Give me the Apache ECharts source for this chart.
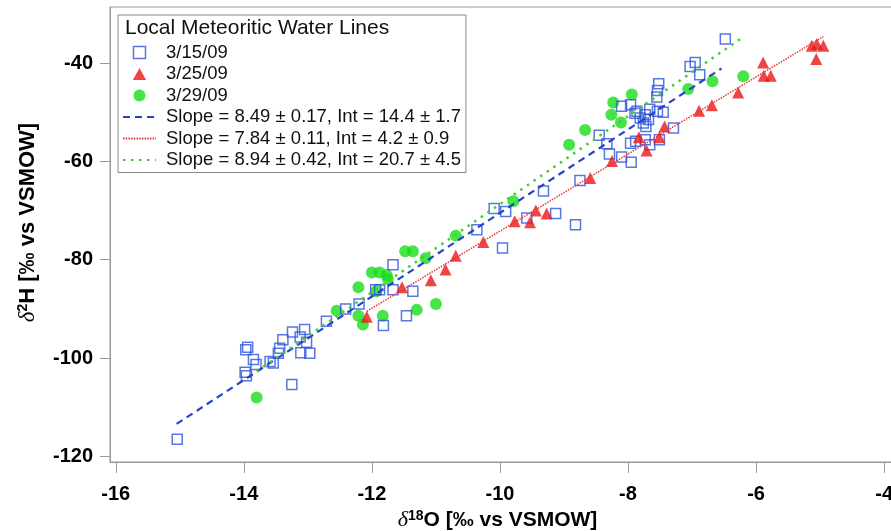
<!DOCTYPE html>
<html>
<head>
<meta charset="utf-8">
<script src="https://cdn.jsdelivr.net/npm/echarts@6/dist/echarts.min.js"></script>
<style>
  html, body { margin: 0; padding: 0; background: #fff; }
  #chart { width: 891px; height: 531px; }
</style>
</head>
<body>
<div id="chart"></div>
<script>
// 3/15/09 samples [d18O, d2H]
var mar15 = [
  [-15.04, -116.5], [-13.97, -98.3], [-13.94, -97.8], [-13.85, -100.3], [-13.81, -101.3],
  [-13.98, -102.9], [-13.96, -103.6], [-13.59, -100.7], [-13.54, -101.0], [-13.46, -99.0],
  [-13.44, -98.0], [-13.39, -96.3], [-13.24, -94.7], [-13.12, -95.7], [-13.05, -94.2],
  [-13.02, -96.8], [-13.11, -98.9], [-12.97, -99.0], [-13.25, -105.4], [-12.71, -92.5],
  [-12.41, -90.0], [-12.20, -89.0], [-11.94, -86.1], [-11.88, -86.1], [-11.67, -86.1],
  [-11.36, -86.4], [-11.67, -81.0], [-11.46, -91.4], [-11.82, -93.4], [-10.36, -73.9],
  [-10.09, -69.6], [-9.91, -70.2], [-9.96, -77.6], [-9.58, -71.5], [-9.32, -66.0],
  [-9.13, -70.6], [-8.82, -72.9], [-8.75, -63.9], [-8.45, -54.7], [-8.33, -56.4],
  [-8.29, -58.5], [-8.10, -59.1], [-7.95, -60.2], [-8.10, -48.8], [-7.96, -48.5],
  [-7.86, -49.8], [-7.89, -50.2], [-7.81, -51.2], [-7.73, -50.5], [-7.76, -52.2],
  [-7.68, -51.5], [-7.72, -52.9], [-7.66, -49.4], [-7.54, -49.8], [-7.55, -46.9],
  [-7.54, -45.6], [-7.52, -44.2], [-7.45, -50.0], [-7.29, -53.2], [-7.88, -55.9],
  [-7.96, -56.3], [-7.73, -55.6], [-7.66, -56.6], [-7.51, -55.6], [-7.03, -40.7],
  [-6.95, -39.9], [-6.88, -42.4], [-6.48, -35.1]
]
// 3/25/09
var mar25 = [
  [-12.08, -91.6], [-11.53, -85.6], [-11.08, -84.2], [-10.85, -82.0], [-10.69, -79.2],
  [-10.26, -76.4], [-9.77, -72.2], [-9.53, -72.4], [-9.44, -70.0], [-9.27, -70.6],
  [-8.59, -63.4], [-8.25, -59.9], [-7.83, -55.1], [-7.71, -57.8], [-7.51, -55.1],
  [-7.43, -52.9], [-6.89, -49.7], [-6.69, -48.6], [-6.28, -46.0], [-5.89, -39.9],
  [-5.88, -42.6], [-5.77, -42.6], [-5.13, -36.5], [-5.05, -36.1], [-4.95, -36.5],
  [-5.06, -39.2]
]
// 3/29/09
var mar29 = [
  [-13.80, -108.0], [-12.55, -90.4], [-12.21, -91.4], [-12.14, -93.2], [-12.21, -85.6],
  [-12.00, -82.6], [-11.88, -82.6], [-11.77, -83.1], [-11.75, -83.9], [-11.93, -86.4],
  [-11.83, -91.4], [-11.30, -90.2], [-11.00, -89.0], [-11.48, -78.3], [-11.36, -78.3],
  [-11.16, -79.7], [-10.69, -75.1], [-9.79, -68.1], [-8.92, -56.6], [-8.67, -53.6],
  [-8.23, -48.0], [-8.26, -50.5], [-8.11, -52.1], [-7.94, -46.4], [-7.06, -45.3],
  [-6.68, -43.7], [-6.20, -42.7]
]
// fitted line end points as drawn
var fit15 = [[-15.05, -113.4], [-6.54, -41.1]]
var fit25 = [[-12.08, -90.5], [-4.95, -34.6]]
var fit29 = [[-13.80, -102.7], [-6.20, -34.7]]

var xTicks = [-16, -14, -12, -10, -8, -6, -4]
var yTicks = [-120, -100, -80, -60, -40]

var names = ['3/15/09', '3/25/09', '3/29/09',
  'Slope = 8.49 ± 0.17, Int = 14.4 ± 1.7',
  'Slope = 7.84 ± 0.11, Int = 4.2 ± 0.9',
  'Slope = 8.94 ± 0.42, Int = 20.7 ± 4.5']

var blue = '#2f55d8'
var red = '#ee1515'
var green = '#18dd18'
var font = 'Liberation Sans, Arial, sans-serif'
var noFill = 'rgba(255,255,255,0)'

// legend icons as paths so they keep their aspect
var squareIcon = 'path://M0,0L10,0L10,10L0,10Z'
var triIcon = 'path://M5,0L10,9L0,9Z'
var dotIcon = 'path://M0,5A5,5,0,1,1,10,5A5,5,0,1,1,0,5Z'

function nameRich(size) {
  return {
    d: { fontSize: size + 1, fontStyle: 'italic', fontFamily: 'Liberation Serif, serif', color: '#000' },
    s: { fontSize: Math.round(size * 0.65), fontWeight: 'bold', color: '#000', verticalAlign: 'top', lineHeight: 12 },
    b: { fontSize: size, fontWeight: 'bold', color: '#000' }
  }
}

var chart = echarts.init(document.getElementById('chart'))
chart.setOption({
  animation: false,
  textStyle: { fontFamily: font },
  grid: {
    left: 110, top: 7, right: -4, bottom: 69,
    containLabel: false, outerBoundsMode: 'none',
    show: true, borderColor: '#999', borderWidth: 1
  },
  graphic: [{
    type: 'text', left: 125, top: 18,
    style: { text: 'Local Meteoritic Water Lines', font: '21px ' + font, fill: '#111' }
  }],
  legend: {
    orient: 'vertical',
    left: 118, top: 15,
    padding: [28, 5, 3, 4],
    borderColor: '#888', borderWidth: 1,
    itemWidth: 33, itemHeight: 12, itemGap: 2.5,
    symbolKeepAspect: true,
    textStyle: { fontSize: 18.5, lineHeight: 18, color: '#111', fontFamily: font, padding: [0, 0, 0, 5] },
    data: [
      { name: names[0], icon: squareIcon, itemStyle: { color: noFill, borderColor: blue, borderWidth: 1.5 } },
      { name: names[1], icon: triIcon },
      { name: names[2], icon: dotIcon },
      names[3], names[4], names[5]
    ]
  },
  xAxis: {
    type: 'value', min: -16.09, max: -3.83,
    axisLine: { lineStyle: { color: '#999' } },
    axisTick: { length: 11, lineStyle: { color: '#999' }, customValues: xTicks },
    axisLabel: { customValues: xTicks, fontSize: 20, fontWeight: 'bold', color: '#000', margin: 22 },
    splitLine: { show: false },
    name: '{d|δ}{s|18}{b|O [‰ vs VSMOW]}',
    nameLocation: 'middle', nameGap: 47,
    nameTextStyle: { rich: nameRich(21), padding: [0, 10, 0, 0] }
  },
  yAxis: {
    type: 'value', min: -121.14, max: -28.6,
    axisLine: { lineStyle: { color: '#999' } },
    axisTick: { length: 10, lineStyle: { color: '#999' }, customValues: yTicks },
    axisLabel: { customValues: yTicks, fontSize: 20, fontWeight: 'bold', color: '#000', margin: 17 },
    splitLine: { show: false },
    name: '{d|δ}{s|2}{b|H [‰ vs VSMOW]}',
    nameLocation: 'middle', nameGap: 71,
    nameTextStyle: { rich: nameRich(22), padding: [0, 0, 0, 24] }
  },
  series: [
    {
      name: names[0], type: 'scatter', data: mar15, symbol: 'rect', symbolSize: 10,
      itemStyle: { color: noFill, borderColor: blue, borderWidth: 1.5 }, z: 3
    },
    {
      name: names[1], type: 'scatter', data: mar25, symbol: 'triangle', symbolSize: 12,
      itemStyle: { color: red }, z: 4
    },
    {
      name: names[2], type: 'scatter', data: mar29, symbol: 'circle', symbolSize: 12,
      itemStyle: { color: green }, z: 2
    },
    {
      name: names[3], type: 'line', data: fit15, symbol: 'none', showSymbol: false,
      itemStyle: { color: noFill, borderWidth: 0 },
      lineStyle: { color: '#2244cc', width: 2.2, type: [7, 5] }, z: 5
    },
    {
      name: names[4], type: 'line', data: fit25, symbol: 'none', showSymbol: false,
      itemStyle: { color: noFill, borderWidth: 0 },
      lineStyle: { color: '#e83535', width: 1.5, type: [1.5, 1.2] }, z: 5
    },
    {
      name: names[5], type: 'line', data: fit29, symbol: 'none', showSymbol: false,
      itemStyle: { color: noFill, borderWidth: 0 },
      lineStyle: { color: '#44cc33', width: 2.5, type: [2.5, 5.5] }, z: 5
    }
  ]
})
</script>
</body>
</html>
